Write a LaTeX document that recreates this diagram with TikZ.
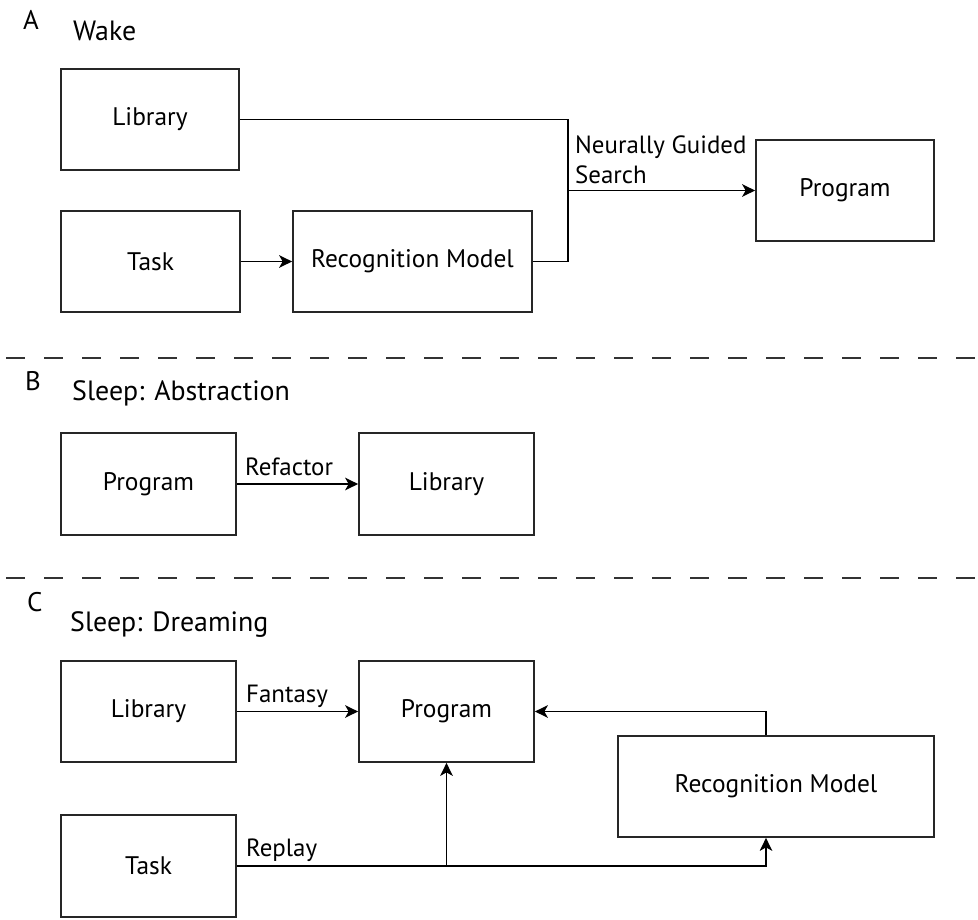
\documentclass[tikz,border=0pt]{standalone}
\usepackage{fontspec}
\setmainfont{PT Sans}
\usetikzlibrary{arrows.meta}
\begin{document}
\begin{tikzpicture}[x=1bp,y=-1bp,
  box/.style={draw=black!85, line width=1.7bp, minimum height=101bp, inner sep=0pt,
    font=\fontsize{25.5}{30}\selectfont},
  arr/.style={line width=1.7bp, -{Stealth[length=13bp,width=12.5bp,inset=3.5bp]}},
  conn/.style={line width=1.7bp},
  lbl/.style={anchor=base west, inner sep=0pt, font=\fontsize{25}{30}\selectfont},
  ttl/.style={anchor=base west, inner sep=0pt, font=\fontsize{28}{33}\selectfont},
  sec/.style={anchor=base west, inner sep=0pt, font=\fontsize{27}{32}\selectfont},
  sep/.style={line width=1.7bp, draw=black!80, dash pattern=on 19bp off 19bp}]
\useasboundingbox (0,0) rectangle (978,920);

% Section A
\node[sec] (secA) at (23,29) {A};
\node[ttl] (ttlA) at (73,40) {Wake};
\node[box, minimum width=178bp] (libA) at (150,119.5) {Library};
\node[box, minimum width=179bp] (taskA) at (150.5,261.5) {Task};
\node[box, minimum width=239bp] (recA) at (412.5,261.5) {Recognition Model};
\node[box, minimum width=178bp] (progA) at (845,190.5) {Program};
\coordinate (jA) at (568,190.5);
\draw[conn] (libA.east) -| (jA) |- (recA.east);
\draw[arr] (taskA.east) -- (recA.west);
\draw[arr] (jA) -- (progA.west);
\node[lbl] (ngs) at (575,153) {Neurally Guided};
\node[lbl] (ngs2) at (575,183) {Search};

\coordinate (sepAl) at (6,358);
\coordinate (sepAr) at (978,358);
\draw[sep] (sepAl) -- (sepAr);

% Section B
\node[sec] (secB) at (25,390) {B};
\node[ttl] (ttlB) at (72,400) {Sleep: Abstraction};
\node[box, minimum width=175bp, minimum height=102bp] (progB) at (148.5,484) {Program};
\node[box, minimum width=175bp, minimum height=102bp] (libB) at (446.5,484) {Library};
\draw[arr] (progB.east) -- (libB.west);
\node[lbl] (refl) at (245,475) {Refactor};

\coordinate (sepBl) at (6,578);
\coordinate (sepBr) at (978,578);
\draw[sep] (sepBl) -- (sepBr);

% Section C
\node[sec] (secC) at (27,611) {C};
\node[ttl] (ttlC) at (70,631) {Sleep: Dreaming};
\node[box, minimum width=175bp] (libC) at (148.5,711.5) {Library};
\node[box, minimum width=175bp] (progC) at (446.5,711.5) {Program};
\node[box, minimum width=316bp] (recC) at (776,786.5) {Recognition Model};
\node[box, minimum width=175bp, minimum height=102bp] (taskC) at (148.5,866) {Task};
\coordinate (rcx) at (766,0);
\draw[arr] (libC.east) -- (progC.west);
\draw[arr] (recC.north -| rcx) |- (progC.east);
\draw[arr] (taskC.east) -| (recC.south -| rcx);
\draw[arr] (taskC.east -| progC.south) -- (progC.south);
\node[lbl] (fan) at (246,702) {Fantasy};
\node[lbl] (rep) at (246,856) {Replay};
\end{tikzpicture}
\end{document}
